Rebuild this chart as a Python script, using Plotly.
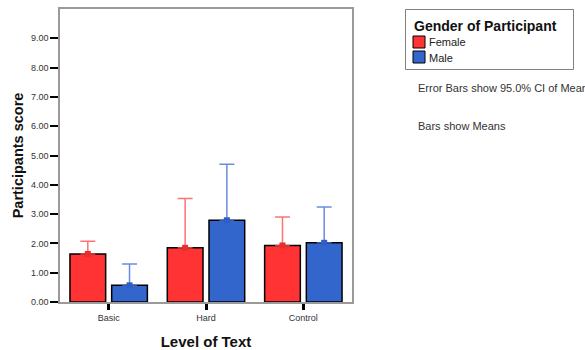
import plotly.graph_objects as go

# Mean participant scores with upper 95% CI limits, by text level and gender
levels = ["Basic", "Hard", "Control"]
female_mean = [1.64, 1.85, 1.93]
female_ci_upper = [2.07, 3.53, 2.90]
male_mean = [0.57, 2.79, 2.02]
male_ci_upper = [1.30, 4.70, 3.24]
y_tick_values = [0, 1, 2, 3, 4, 5, 6, 7, 8, 9]
y_tick_labels = [f"{v:.2f}" for v in y_tick_values]

FONT = "Liberation Sans, Arial, sans-serif"
RED = "#ff3333"
BLUE = "#3366cc"
RED_ERR = "rgba(255,80,80,0.8)"
BLUE_ERR = "rgba(70,110,215,0.8)"

W, H = 585, 350
ML, MR, MT, MB = 60, 233, 9, 48
PW, PH = W - ML - MR, H - MT - MB


def px(x):
    return (x - ML) / PW


def py(y):
    return (H - MB - y) / PH


fig = go.Figure()

series = [
    ("Female", female_mean, female_ci_upper, RED, RED_ERR, "#e62e2e"),
    ("Male", male_mean, male_ci_upper, BLUE, BLUE_ERR, "#2f5fc4"),
]

for name, means, upper, col, ecol, mcol in series:
    fig.add_trace(go.Bar(
        x=levels, y=means, name=name, offsetgroup=name,
        marker=dict(color=col, line=dict(color="black", width=1.5)),
        showlegend=False,
    ))

for name, means, upper, col, ecol, mcol in series:
    fig.add_trace(go.Scatter(
        x=levels, y=means, name=name, offsetgroup=name, mode="markers",
        marker=dict(symbol="square", size=6, color=mcol, line=dict(width=0)),
        error_y=dict(type="data", symmetric=False,
                     array=[u - m for u, m in zip(upper, means)],
                     arrayminus=[0] * len(means),
                     color=ecol, thickness=1.5, width=7.5),
        showlegend=False,
    ))

fig.update_layout(
    width=W, height=H,
    margin=dict(l=ML, r=MR, t=MT, b=MB, autoexpand=False),
    paper_bgcolor="white", plot_bgcolor="white",
    barmode="group", bargap=0.143, bargroupgap=0.144,
    scattermode="group", scattergap=0.143,
    font=dict(family=FONT, color="#333"),
)

fig.update_yaxes(
    range=[0, 10], tickvals=y_tick_values, ticktext=y_tick_labels,
    ticks="outside", ticklen=8, tickwidth=2, tickcolor="black",
    tickfont=dict(size=9, color="#333"),
    showline=True, linecolor="#9a9a9a", linewidth=1.5, mirror=True,
    showgrid=False, zeroline=False, automargin=False,
    title=dict(text="<b>Participants score</b>", font=dict(size=14.5, color="#111"), standoff=4),
)
fig.update_xaxes(
    type="category",
    ticks="outside", ticklen=6, tickwidth=2.5, tickcolor="black",
    tickfont=dict(size=9, color="#333"),
    showline=True, linecolor="#9a9a9a", linewidth=1.5, mirror=True,
    showgrid=False, zeroline=False, automargin=False,
    title=dict(text="<b>Level of Text</b>", font=dict(size=15, color="#111"), standoff=20),
)

# Legend box
shapes = [
    dict(type="rect", xref="paper", yref="paper",
         x0=px(405.5), x1=px(573.5), y0=py(69.5), y1=py(9.5),
         line=dict(color="#808080", width=1), fillcolor="white", layer="above"),
]
for (name, _, _, col, _, _), top in zip(series, [36, 51]):
    shapes.append(dict(type="rect", xref="paper", yref="paper",
                       x0=px(413), x1=px(425), y0=py(top + 12), y1=py(top),
                       line=dict(color="black", width=1), fillcolor=col, layer="above"))
fig.update_layout(shapes=shapes)

annotations = [
    dict(text="<b>Gender of Participant</b>", x=px(412), y=py(26),
         font=dict(size=14, color="#111")),
    dict(text="Female", x=px(427), y=py(42), font=dict(size=11, color="#222")),
    dict(text="Male", x=px(427), y=py(58), font=dict(size=11, color="#222")),
    dict(text="Error Bars show 95.0% CI of Mean", x=px(416), y=py(88),
         font=dict(size=11, color="#333")),
    dict(text="Bars show Means", x=px(416), y=py(126),
         font=dict(size=11, color="#333")),
]
for a in annotations:
    a.update(xref="paper", yref="paper", xanchor="left", yanchor="middle",
             showarrow=False)
fig.update_layout(annotations=annotations)

fig.write_html("out.html")
